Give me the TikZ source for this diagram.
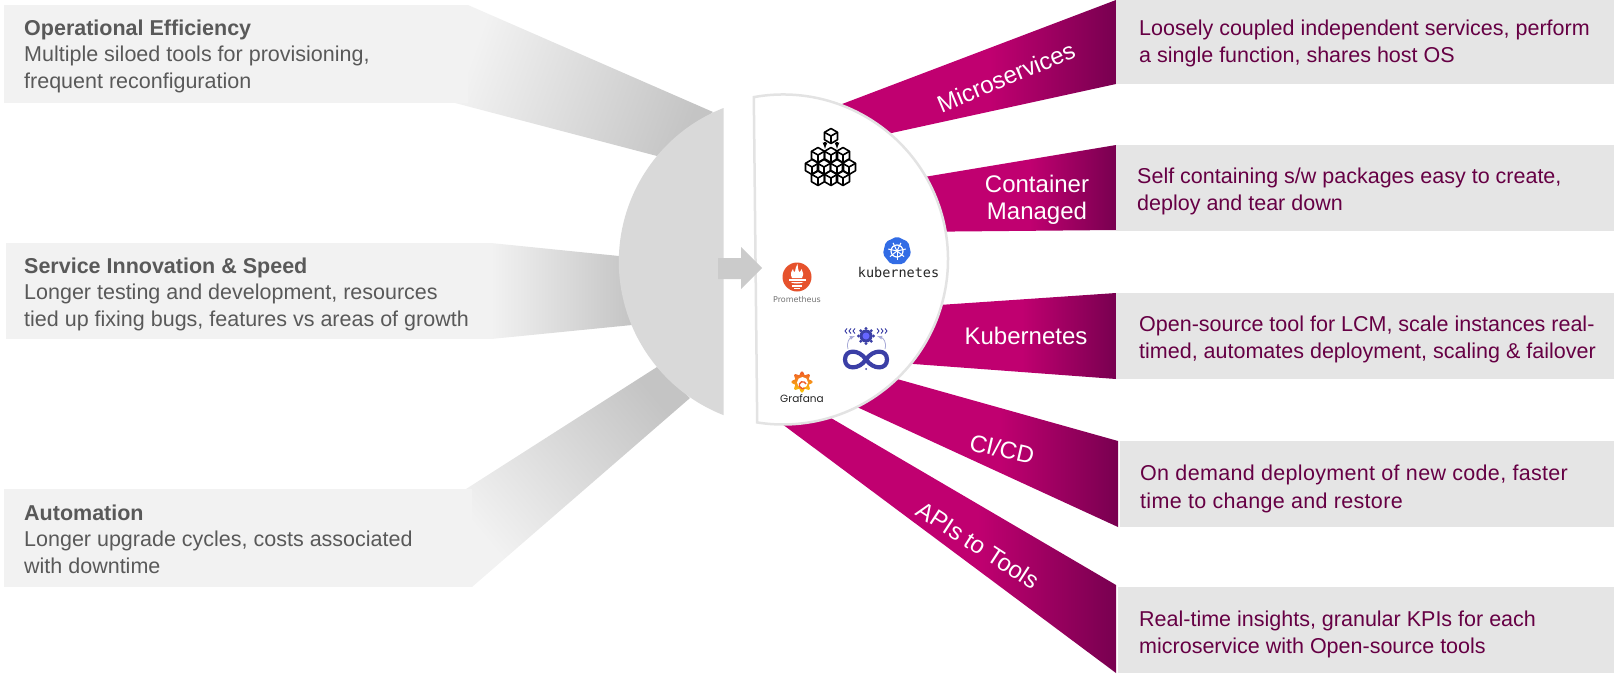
\documentclass[tikz,border=0pt]{standalone}
\usepackage{fontspec}
\setmainfont{Liberation Sans}
\newfontfamily\kubefont{DejaVu Sans Mono}
\newfontfamily\logofont{DejaVu Sans}
\newfontfamily\grafanafont{Poppins}
\usetikzlibrary{shapes.geometric}
\definecolor{beampink}{HTML}{C00070}
\definecolor{beamdark}{HTML}{780050}
\definecolor{rightbox}{HTML}{E5E5E5}
\definecolor{righttxt}{HTML}{660044}
\definecolor{leftbox}{HTML}{F2F2F2}
\definecolor{lefttxt}{HTML}{595959}
\definecolor{greybeam}{HTML}{C4C4C4}
\definecolor{greydisc}{HTML}{D9D9D9}
\definecolor{discline}{HTML}{E3E3E3}
\definecolor{arrowgrey}{HTML}{CBCBCB}
\definecolor{loopblue}{HTML}{3B3FA6}
\definecolor{kubeblue}{HTML}{326CE5}
\definecolor{promred}{HTML}{E6522C}
\definecolor{grafred}{HTML}{F05A28}
\definecolor{grafyel}{HTML}{FBCA0A}
\pgfdeclarehorizontalshading{pinkfade}{100bp}{color(0bp)=(beampink); color(55bp)=(beampink); color(75bp)=(beamdark); color(100bp)=(beamdark)}
\tikzset{
  pinkbeam/.style={shading=pinkfade},
  lefttext/.style={anchor=base west,align=left,inner sep=0pt,text=lefttxt,font=\fontsize{21.5}{26.3}\selectfont},
  righttext/.style={anchor=base west,align=left,inner sep=0pt,text=righttxt,font=\fontsize{21.5}{26.5}\selectfont},
  beamtext/.style={inner sep=0pt,text=white,font=\fontsize{24}{27.5}\selectfont},
}
\begin{document}
\begin{tikzpicture}[x=1pt,y=-1pt]
\useasboundingbox (0,0) rectangle (1614,673);
% Grey beams
\shade[top color=leftbox,bottom color=greybeam,shading angle=70] (455,5)--(468,5)--(713,112)--(657,156)--(455,103)--cycle;
\shade[left color=leftbox,right color=greybeam] (491,243)--(619,256)--(632,325)--(491,339)--cycle;
\shade[top color=leftbox,bottom color=greybeam,shading angle=130] (466,489)--(657,367)--(690,398)--(472,587)--cycle;
% Left boxes
\fill[leftbox] (4,5) rectangle (468,103);
\fill[leftbox] (6,243) rectangle (491,339);
\fill[leftbox] (4,489) rectangle (472,587);
\draw (24,88) node[lefttext] (opeff) {\textbf{Operational Efficiency}\\Multiple siloed tools for provisioning,\\frequent reconfiguration};
\draw (24,326) node[lefttext] (innov) {\textbf{Service Innovation \& Speed}\\Longer testing and development, resources\\tied up fixing bugs, features vs areas of growth};
\draw (24,573) node[lefttext] (autom) {\textbf{Automation}\\Longer upgrade cycles, costs associated\\with downtime};
% Grey half disc
\fill[greydisc] (723.5,108) arc (111.45:248.6:165pt) -- cycle;
% Pink beams
\shade[pinkbeam] (800,120)--(1116,0)--(1116,84)--(800,153)--cycle;
\shade[pinkbeam] (900,181)--(1116,145)--(1116,230)--(900,232)--cycle;
\shade[pinkbeam] (880,309)--(1116,293)--(1116,379)--(880,361.5)--cycle;
\shade[pinkbeam] (840,363)--(1118,441)--(1118,527)--(820,390)--cycle;
\shade[pinkbeam] (790,394)--(1116,585)--(1116,673)--(770,415)--cycle;
\draw (1006,77) node[beamtext,rotate=22.7] (micro) {Microservices};
\draw (1037,200) node[beamtext,align=center] (contain) {Container\\Managed};
\draw (1026,336) node[beamtext] (kube) {Kubernetes};
\draw (1002,449) node[beamtext,rotate=-13] (cicd) {CI/CD};
\draw (978,545) node[beamtext,rotate=-33] (apis) {APIs to Tools};
% Right boxes
\fill[rightbox] (1116,0) rectangle (1614,84);
\fill[rightbox] (1116,145) rectangle (1614,231);
\fill[rightbox] (1116,293) rectangle (1614,379);
\fill[rightbox] (1120,441) rectangle (1614,527);
\fill[rightbox] (1118,587) rectangle (1614,673);
\draw (1139,62) node[righttext] (microtxt) {Loosely coupled independent services, perform\\a single function, shares host OS};
\draw (1137,210) node[righttext] (containtxt) {Self containing s/w packages easy to create,\\deploy and tear down};
\draw (1139,358) node[righttext] (kubetxt) {Open-source tool for LCM, scale instances real-\\timed, automates deployment, scaling \& failover};
\draw (1140,508) node[righttext,font=\addfontfeature{LetterSpace=1.5}\fontsize{21.5}{27.5}\selectfont] (cicdtxt) {On demand deployment of new code, faster\\time to change and restore};
\draw (1139,653) node[righttext] (apistxt) {Real-time insights, granular KPIs for each\\microservice with Open-source tools};
% White half disc
\draw[line width=2.5pt,discline,fill=white] (753.8,97.1) arc (100.2:-99:165pt) -- cycle;
% Arrow
\fill[arrowgrey] (718,258)--(741,258)--(741,247)--(762,268)--(741,289)--(741,279)--(718,279)--cycle;
% Cubes
\foreach \cx/\cy in {831/136,818/155,831/155,843/155,812/167,824/167,837/167,849/167,818/178,831/178,843/178} {
  \begin{scope}[shift={(\cx,\cy)},line width=1.6pt,line join=round]
  \draw (0,-7.5)--(6.5,-3.7)--(6.5,3.7)--(0,7.5)--(-6.5,3.7)--(-6.5,-3.7)--cycle;
  \draw (-6.5,-3.7)--(0,0)--(6.5,-3.7) (0,0)--(0,7.5);
  \end{scope}
}
\draw[line width=1.2pt,-latex] (825,142)--(825,149);
\draw[line width=1.2pt,-latex] (837,142)--(837,149);
% Kubernetes logo
\node[regular polygon,regular polygon sides=7,fill=kubeblue,minimum size=29pt,inner sep=0pt,rounded corners=2pt] (k8shept) at (897,251) {};
\draw[white,line width=1.2pt] (897,251) circle (6);
\foreach \a in {90,141.4,...,400} {\draw[white,line width=1pt] (897,251)--++(\a:9);}
\draw (898.5,277) node[anchor=base,inner sep=0pt,text=black!85,font=\kubefont\fontsize{13.5}{14}\selectfont] (k8slogo) {kubernetes};
% Prometheus logo
\fill[promred] (797,277) circle (14.5);
\begin{scope}[shift={(797,277)}]
\fill[white] (-5,1) .. controls (-7,-3) and (-6,-5) .. (-4,-8) .. controls (-4,-6) and (-3,-5) .. (-2,-5) .. controls (-2,-8) and (-1,-10) .. (0.5,-13) .. controls (0.5,-10) and (1.5,-7) .. (2,-5) .. controls (3,-5) and (4,-6) .. (4.5,-8) .. controls (6,-5) and (7,-3) .. (5,1) -- cycle;
\fill[white] (-8.5,2) rectangle (8.5,4);
\fill[white] (-6.5,5) .. controls (-5,7) and (5,7) .. (6.5,5) -- cycle;
\fill[white] (-5,8) rectangle (5,9.5);
\fill[white] (-3,10.5) rectangle (3,12);
\end{scope}
\draw (797,302) node[anchor=base,inner sep=0pt,text=black!55,font=\logofont\fontsize{8}{9}\selectfont] (promlogo) {Prometheus};
% CI/CD logo
\fill[loopblue] (866,336) circle (6.5);
\foreach \a in {0,45,...,315} {\fill[loopblue] (866,336)++(\a:7.5) circle (1.6);}
\fill[blue!60!white] (866,336) circle (3.5);
\foreach \cx in {845,849,853} {\draw[loopblue,line width=.9pt] (\cx+2,328.5)--(\cx,331)--(\cx+2,333.5);}
\foreach \cx in {879,883,887} {\draw[loopblue,line width=.9pt] (\cx-2,328.5)--(\cx,331)--(\cx-2,333.5);}
\draw[loopblue!45,line width=.8pt,-latex] (848,349) .. controls (846,342) and (850,338) .. (855,336);
\draw[loopblue!45,line width=.8pt,-latex] (885,349) .. controls (887,342) and (883,338) .. (877,336);
\draw[loopblue,line width=4.2pt] (866,359.5) .. controls (873,349) and (887,349) .. (887,359.5) .. controls (887,370) and (873,370) .. (866,359.5) .. controls (859,349) and (845,349) .. (845,359.5) .. controls (845,370) and (859,370) .. cycle;
\fill[loopblue] (866,369) circle (1);
% Grafana logo
\shade[top color=grafred,bottom color=grafyel] plot[domain=0:360,samples=73,smooth] ({802+(9+1.6*cos(8*\x))*cos(\x)},{382+(9+1.6*cos(8*\x))*sin(\x)}) -- cycle;
\fill[white] (802.5,382.5) circle (5.5);
\draw[grafred,line width=1.4pt] (806,384) arc (20:300:3.5pt);
\draw (802,402) node[anchor=base,inner sep=0pt,text=black!85,font=\grafanafont\fontsize{10.5}{12}\selectfont] (grafanalogo) {Grafana};
\end{tikzpicture}
\end{document}
